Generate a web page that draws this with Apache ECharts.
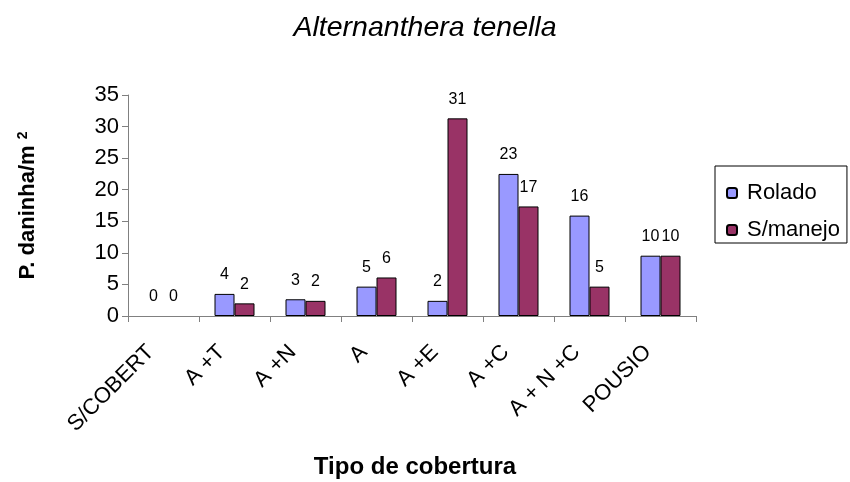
<!DOCTYPE html>
<html>
<head>
<meta charset="utf-8">
<script src="https://cdn.jsdelivr.net/npm/echarts@6/dist/echarts.min.js"></script>
<style>html,body{margin:0;padding:0;background:#fff}#c{width:850px;height:482px}</style>
</head>
<body>
<div id="c"></div>
<script>
const categories = ['S/COBERT', 'A +T', 'A +N', 'A', 'A +E', 'A +C', 'A + N +C', 'POUSIO'];
const rolado = [0, 3.5, 2.65, 4.65, 2.4, 22.5, 15.9, 9.55];
const semManejo = [0, 2.0, 2.4, 6.1, 31.3, 17.35, 4.65, 9.55];
const roladoLabels = ['0', '4', '3', '5', '2', '23', '16', '10'];
const semManejoLabels = ['0', '2', '2', '6', '31', '17', '5', '10'];
const yTicks = [0, 5, 10, 15, 20, 25, 30, 35];

const font = 'Liberation Sans, Arial, sans-serif';
const chart = echarts.init(document.getElementById('c'), null, {renderer: 'canvas'});
const labelCfg = (arr) => ({
  show: true, position: 'top', distance: 11,
  fontFamily: font, fontSize: 16, color: '#000',
  formatter: (p) => arr[p.dataIndex]
});
const toData = (vals) => vals.map(v => v === 0 ? {value: v, itemStyle: {borderWidth: 0}} : v);
chart.setOption({
  animation: false,
  backgroundColor: '#fff',
  title: {
    text: 'Alternanthera tenella', left: 420, top: 9, textAlign: 'center',
    textStyle: {fontFamily: font, fontSize: 28.5, fontStyle: 'italic', fontWeight: 'normal', color: '#000'}
  },
  legend: {
    orient: 'vertical', left: 715, top: 166,
    padding: [16, 7, 2, 11], itemGap: 15, itemWidth: 10, itemHeight: 10,
    borderColor: '#000', borderWidth: 1,
    textStyle: {fontFamily: font, fontSize: 22, color: '#000', lineHeight: 22, padding: [0, 0, 0, 5]},
    data: ['Rolado', 'S/manejo']
  },
  grid: {left: 128, right: 154, top: 95, bottom: 166, containLabel: false, outerBoundsMode: 'none'},
  xAxis: {
    type: 'category', data: categories,
    axisLine: {lineStyle: {color: '#808080', width: 1}},
    axisTick: {show: true, alignWithLabel: false, length: 6, lineStyle: {color: '#808080'}},
    axisLabel: {rotate: 45, interval: 0, margin: 20, padding: [0, 18, 0, 0], fontFamily: font, fontSize: 22, color: '#000'},
    name: 'Tipo de cobertura', nameLocation: 'middle', nameGap: 139,
    nameTextStyle: {fontFamily: font, fontSize: 24, fontWeight: 'bold', color: '#000', padding: [0, 0, 0, 6]}
  },
  yAxis: {
    type: 'value', min: 0, max: 35, interval: 5,
    axisLine: {show: true, lineStyle: {color: '#808080', width: 1}},
    axisTick: {show: true, length: 6, lineStyle: {color: '#808080'}},
    splitLine: {show: false},
    axisLabel: {fontFamily: font, fontSize: 22, color: '#000', margin: 9},
    name: 'P. daninha/m {sup|2}', nameLocation: 'middle', nameGap: 88, nameRotate: 90,
    nameTextStyle: {
      fontFamily: font, fontSize: 22, fontWeight: 'bold', color: '#000',
      rich: {sup: {fontFamily: font, fontSize: 14, fontWeight: 'bold', color: '#000', verticalAlign: 'top', lineHeight: 24}}
    }
  },
  series: [
    {
      name: 'Rolado', type: 'bar', data: toData(rolado), barWidth: 20, barGap: '0%',
      itemStyle: {color: '#9999FF', borderColor: '#000', borderWidth: 1},
      label: labelCfg(roladoLabels)
    },
    {
      name: 'S/manejo', type: 'bar', data: toData(semManejo), barWidth: 20, barGap: '0%',
      itemStyle: {color: '#993366', borderColor: '#000', borderWidth: 1},
      label: labelCfg(semManejoLabels)
    }
  ]
});
</script>
</body>
</html>
